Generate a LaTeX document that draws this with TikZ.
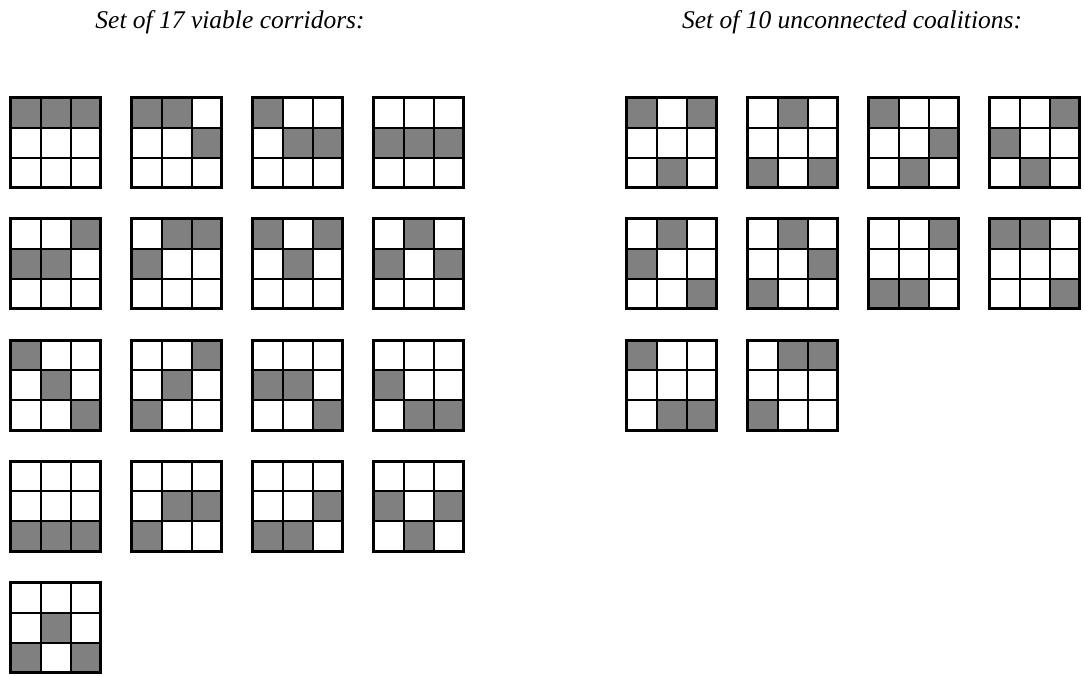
\documentclass[tikz,border=0pt]{standalone}
\usepackage{fontspec}
\setmainfont{Liberation Serif}
\usetikzlibrary{positioning}

% one 3x3 board: #1,#2 = top left corner, #3 = macro holding nine cells, row by row
\newcommand{\coalgrid}[3]{%
\foreach \v [count=\i from 0] in #3 {
  \pgfmathtruncatemacro{\cc}{mod(\i,3)}
  \pgfmathtruncatemacro{\rr}{int(\i/3)}
  \ifnum\v=1
    \fill[cellgray] ({#1+30*\cc},{#2+30*\rr}) rectangle ++(30,30);
  \fi
}
\draw[inner line] ({#1+30},{#2}) -- ++(0,90) ({#1+60},{#2}) -- ++(0,90)
  ({#1},{#2+30}) -- ++(90,0) ({#1},{#2+60}) -- ++(90,0);
\draw[outer line] (#1,#2) rectangle ++(90,90);
}

\tikzset{
  cellgray/.style={fill=gray},
  inner line/.style={line width=2pt, black},
  outer line/.style={line width=3pt, black},
  set title/.style={font=\fontsize{25.5}{30}\selectfont\itshape, inner sep=0pt, anchor=base}
}

\begin{document}
\begin{tikzpicture}[x=1pt, y=-1pt]
\useasboundingbox (0,0) rectangle (1084,675);

\node[set title] (corridors) at (230,28) {Set of 17 viable corridors:};
\node[set title] (unconnected) at (852,28) {Set of 10 unconnected coalitions:};

% viable corridors
\foreach \p [count=\k from 0] in {
  {1,1,1,0,0,0,0,0,0}, {1,1,0,0,0,1,0,0,0}, {1,0,0,0,1,1,0,0,0}, {0,0,0,1,1,1,0,0,0},
  {0,0,1,1,1,0,0,0,0}, {0,1,1,1,0,0,0,0,0}, {1,0,1,0,1,0,0,0,0}, {0,1,0,1,0,1,0,0,0},
  {1,0,0,0,1,0,0,0,1}, {0,0,1,0,1,0,1,0,0}, {0,0,0,1,1,0,0,0,1}, {0,0,0,1,0,0,0,1,1},
  {0,0,0,0,0,0,1,1,1}, {0,0,0,0,1,1,1,0,0}, {0,0,0,0,0,1,1,1,0}, {0,0,0,1,0,1,0,1,0},
  {0,0,0,0,1,0,1,0,1}} {
  \pgfmathsetmacro{\gx}{10.5+121*mod(\k,4)}
  \pgfmathsetmacro{\gy}{97.5+121.3*int(\k/4)}
  \coalgrid{\gx}{\gy}{\p}
}

% unconnected coalitions
\foreach \p [count=\k from 0] in {
  {1,0,1,0,0,0,0,1,0}, {0,1,0,0,0,0,1,0,1}, {1,0,0,0,0,1,0,1,0}, {0,0,1,1,0,0,0,1,0},
  {0,1,0,1,0,0,0,0,1}, {0,1,0,0,0,1,1,0,0}, {0,0,1,0,0,0,1,1,0}, {1,1,0,0,0,0,0,0,1},
  {1,0,0,0,0,0,0,1,1}, {0,1,1,0,0,0,1,0,0}} {
  \pgfmathsetmacro{\gx}{626.5+121*mod(\k,4)}
  \pgfmathsetmacro{\gy}{97.5+121.3*int(\k/4)}
  \coalgrid{\gx}{\gy}{\p}
}
\end{tikzpicture}
\end{document}
